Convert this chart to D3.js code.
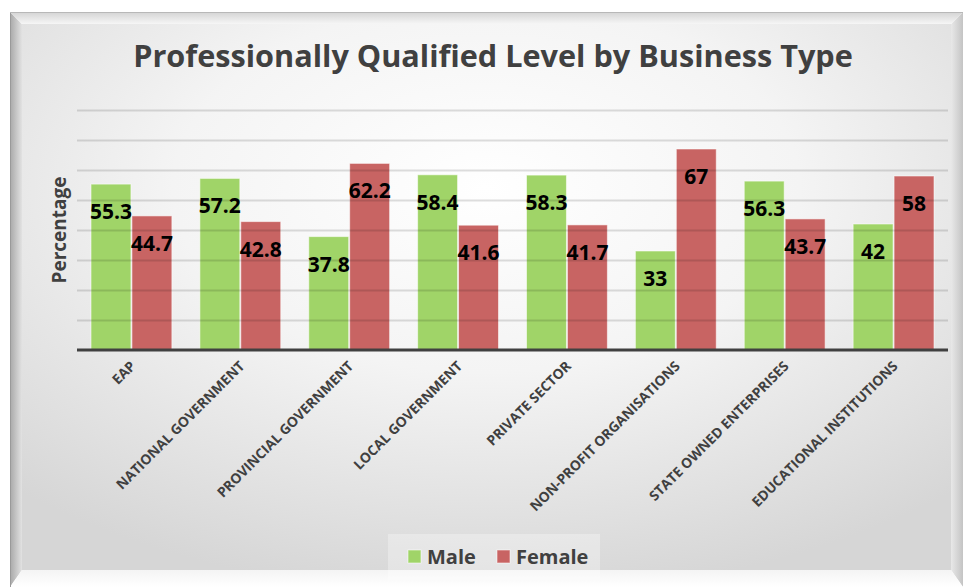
<!DOCTYPE html>
<html>
<head>
<meta charset="utf-8">
<script src="https://cdn.jsdelivr.net/npm/d3@7"></script>
<style>
  html, body { margin: 0; padding: 0; background: #ffffff; }
  svg { display: block; }
  text { font-family: "Open Sans", "DejaVu Sans", sans-serif; }
</style>
</head>
<body>
<svg id="chart" width="965" height="587"></svg>
<script>
// ---- data ----
const categories = ["EAP", "NATIONAL GOVERNMENT", "PROVINCIAL GOVERNMENT", "LOCAL GOVERNMENT",
  "PRIVATE SECTOR", "NON-PROFIT ORGANISATIONS", "STATE OWNED ENTERPRISES", "EDUCATIONAL INSTITUTIONS"];
const seriesNames = ["Male", "Female"];
const maleValues = [55.3, 57.2, 37.8, 58.4, 58.3, 33, 56.3, 42];
const femaleValues = [44.7, 42.8, 62.2, 41.6, 41.7, 67, 43.7, 58];
const yTicks = [0, 10, 20, 30, 40, 50, 60, 70, 80];
const titleText = "Professionally Qualified Level by Business Type";
const yTitle = "Percentage";

const colors = { Male: "#a0d468", Female: "#c86463" };

const svg = d3.select("#chart");
const W = 965, H = 587;
const defs = svg.append("defs");

// ---- background frame ----
const rg = defs.append("radialGradient").attr("id", "bg")
  .attr("cx", "0.5").attr("cy", "0.3").attr("r", "0.75");
rg.append("stop").attr("offset", "0").attr("stop-color", "#ffffff");
rg.append("stop").attr("offset", "0.45").attr("stop-color", "#f4f4f4");
rg.append("stop").attr("offset", "1").attr("stop-color", "#d6d6d6");

function lin(id, x1, y1, x2, y2, c1, c2) {
  const g = defs.append("linearGradient").attr("id", id)
    .attr("x1", x1).attr("y1", y1).attr("x2", x2).attr("y2", y2);
  g.append("stop").attr("offset", "0").attr("stop-color", c1);
  g.append("stop").attr("offset", "1").attr("stop-color", c2);
}
lin("gl", 0, 0, 1, 0, "#a8a8a8", "#e2e2e2");
lin("gr", 0, 0, 1, 0, "#e8e8e8", "#c4c4c4");
lin("gt", 0, 0, 0, 1, "#d4d4d4", "#f6f6f6");
lin("gb", 0, 0, 0, 1, "#f4f4f4", "#ffffff");

svg.append("rect").attr("width", W).attr("height", H).attr("fill", "#ffffff");
const px0 = 10, py0 = 12, px1 = 963, py1 = 587;
const ix0 = 22, iy0 = 24, ix1 = 951, iy1 = 570;
svg.append("rect").attr("x", ix0).attr("y", iy0).attr("width", ix1 - ix0).attr("height", iy1 - iy0)
  .attr("fill", "url(#bg)");
// bevel strips
svg.append("polygon").attr("points", `${px0},${py0} ${ix0},${iy0} ${ix0},${iy1} ${px0},${py1}`).attr("fill", "url(#gl)");
svg.append("polygon").attr("points", `${px1},${py0} ${ix1},${iy0} ${ix1},${iy1} ${px1},${py1}`).attr("fill", "url(#gr)");
svg.append("polygon").attr("points", `${px0},${py0} ${px1},${py0} ${ix1},${iy0} ${ix0},${iy0}`).attr("fill", "url(#gt)");
svg.append("polygon").attr("points", `${ix0},${iy1} ${ix1},${iy1} ${px1},${py1} ${px0},${py1}`).attr("fill", "url(#gb)");
svg.append("line").attr("x1", px0 + 0.5).attr("x2", px0 + 0.5).attr("y1", py0).attr("y2", py1)
  .attr("stroke", "#9a9a9a").attr("stroke-width", 1);
svg.append("line").attr("x1", px0).attr("x2", px1).attr("y1", py0 + 0.5).attr("y2", py0 + 0.5)
  .attr("stroke", "#b8b8b8").attr("stroke-width", 1);

// ---- scales ----
const plot = { left: 77, right: 948, top: 110, bottom: 350 };
const x = d3.scaleBand().domain(categories).range([plot.left, plot.right])
  .paddingInner(0.248).paddingOuter(0.124);
const xs = d3.scaleBand().domain(seriesNames).range([0, x.bandwidth()]);
const y = d3.scaleLinear().domain([0, 80]).range([plot.bottom, plot.top]);

// ---- bars ----
const rows = categories.map((c, i) => ({ c, Male: maleValues[i], Female: femaleValues[i] }));
const groups = svg.append("g").selectAll("g").data(rows).join("g")
  .attr("transform", d => `translate(${x(d.c)},0)`);
groups.selectAll("rect").data(d => seriesNames.map(s => ({ s, v: d[s] }))).join("rect")
  .attr("x", d => xs(d.s) + 0.5)
  .attr("width", xs.bandwidth() - 1)
  .attr("y", d => y(d.v))
  .attr("height", d => y(0) - y(d.v))
  .attr("fill", d => colors[d.s])
  .attr("stroke", "rgba(255,255,255,0.55)")
  .attr("stroke-width", 1);

// ---- gridlines on top ----
const grid = svg.append("g")
  .call(d3.axisLeft(y).tickValues(yTicks.filter(t => t > 0)).tickSize(-(plot.right - plot.left)).tickFormat(""))
  .attr("transform", `translate(${plot.left},0)`);
grid.select(".domain").remove();
grid.selectAll(".tick line").attr("stroke", "#000").attr("stroke-opacity", 0.13).attr("stroke-width", 2);

// baseline (x axis)
const xAxis = svg.append("g").attr("transform", `translate(0,${plot.bottom})`)
  .call(d3.axisBottom(x).tickSize(0).tickPadding(0));
xAxis.select(".domain").attr("stroke", "#404040").attr("stroke-width", 3).attr("d", `M${plot.left},0H${plot.right}`);
xAxis.selectAll(".tick text")
  .attr("fill", "#404040")
  .attr("font-size", 13.8)
  .attr("font-weight", 700)
  .attr("text-anchor", "end")
  .attr("dy", 0)
  .attr("transform", "translate(5,17) rotate(-45)")
  .attr("y", 0).attr("x", 0);

// ---- value labels ----
groups.selectAll("text.val").data(d => seriesNames.map(s => ({ s, v: d[s] }))).join("text")
  .attr("class", "val")
  .attr("x", d => xs(d.s) + xs.bandwidth() / 2)
  .attr("y", d => y(d.v) + 35)
  .attr("text-anchor", "middle")
  .attr("font-size", 21)
  .attr("font-weight", 700)
  .attr("fill", "#000")
  .text(d => d.v);

// ---- titles ----
const t = svg.append("text").attr("x", 493).attr("y", 67).attr("text-anchor", "middle")
  .attr("font-weight", 700).attr("fill", "#404040").attr("font-size", 31).text(titleText);
const tw = t.node().getComputedTextLength();
t.attr("font-size", 31 * 720 / tw);

svg.append("text").attr("transform", "translate(66,230) rotate(-90)")
  .attr("text-anchor", "middle").attr("font-weight", 700).attr("fill", "#404040")
  .attr("font-size", 19).text(yTitle);

// ---- legend ----
svg.append("rect").attr("x", 388).attr("y", 534).attr("width", 212).attr("height", 46)
  .attr("fill", "#ffffff").attr("fill-opacity", 0.3);
const legX = [408, 497];
seriesNames.forEach((s, i) => {
  svg.append("rect").attr("x", legX[i]).attr("y", 550).attr("width", 13).attr("height", 13)
    .attr("fill", colors[s]).attr("stroke", "rgba(255,255,255,0.55)");
  svg.append("text").attr("x", legX[i] + 19).attr("y", 564).attr("font-size", 20)
    .attr("font-weight", 700).attr("fill", "#404040").text(s);
});
</script>
</body>
</html>
